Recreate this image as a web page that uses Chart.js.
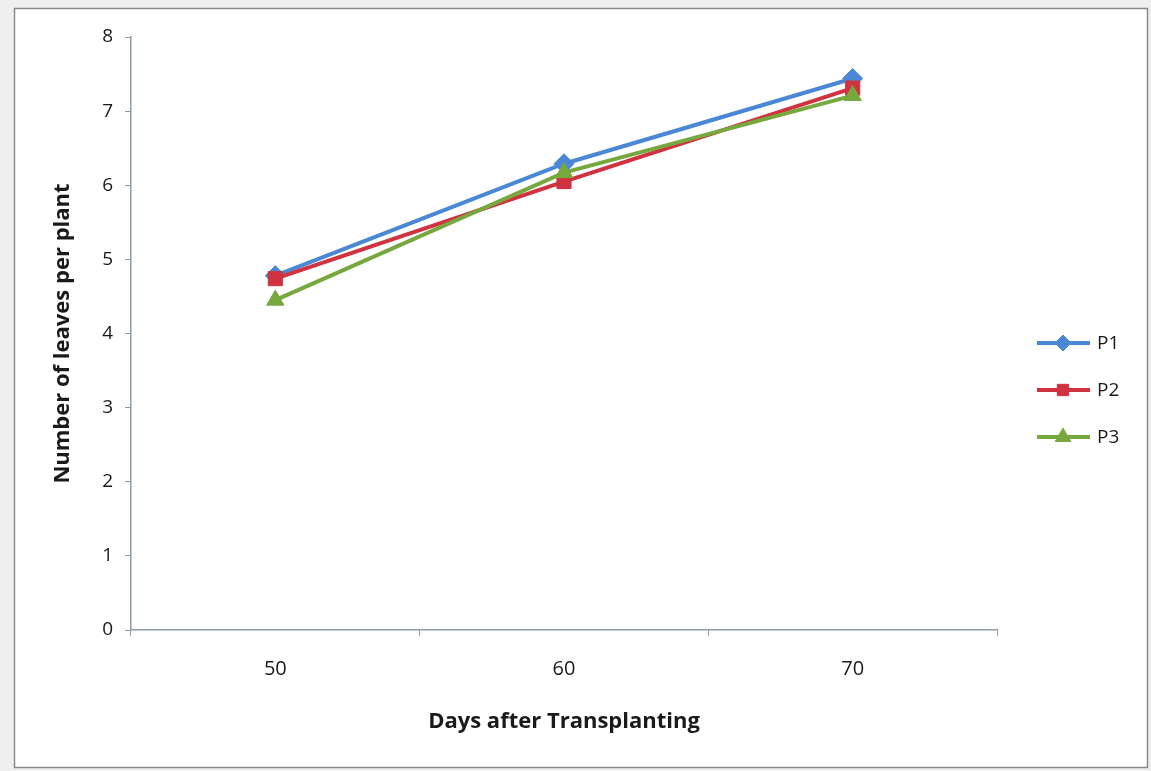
<!DOCTYPE html>
<html>
<head>
<meta charset="utf-8">
<script src="https://cdn.jsdelivr.net/npm/chart.js@4.4.1/dist/chart.umd.min.js"></script>
<style>
html,body{margin:0;padding:0;background:#f0f0f0;}
#wrap{position:absolute;left:0;top:0;width:1151px;height:771px;}
</style>
</head>
<body>
<div id="wrap"><canvas id="c" width="1151" height="771"></canvas></div>
<script>
const categories = ['50', '60', '70'];
const seriesNames = ['P1', 'P2', 'P3'];
const p1 = [4.78, 6.29, 7.44];
const p2 = [4.74, 6.05, 7.31];
const p3 = [4.45, 6.17, 7.21];
const yTicks = [0, 1, 2, 3, 4, 5, 6, 7, 8];

const colors = ['#4a88d6', '#d0323f', '#76a83e'];
const pointStyles = ['rectRot', 'rect', 'triangle'];
const radii = [10, 10, 10];
const legendRadii = [8, 8, 9];
const FONT = "'Open Sans', 'Liberation Sans', sans-serif";

const frame = {
  id: 'frame',
  beforeDraw(chart) {
    const ctx = chart.ctx;
    ctx.save();
    ctx.fillStyle = '#efefef';
    ctx.fillRect(0, 0, chart.width, chart.height);
    ctx.fillStyle = '#ffffff';
    ctx.fillRect(14, 8, 1134, 760);
    ctx.strokeStyle = '#8a8a8a';
    ctx.lineWidth = 1.5;
    ctx.strokeRect(14.5, 8.5, 1133, 759);
    ctx.restore();
  }
};

const legendPlugin = {
  id: 'customLegend',
  afterDraw(chart) {
    const ctx = chart.ctx;
    ctx.save();
    chart.data.datasets.forEach((ds, i) => {
      const y = 343 + i * 47;
      ctx.strokeStyle = ds.borderColor;
      ctx.lineWidth = 4;
      ctx.beginPath();
      ctx.moveTo(1037, y);
      ctx.lineTo(1090, y);
      ctx.stroke();
      ctx.fillStyle = ds.borderColor;
      ctx.strokeStyle = ds.borderColor;
      ctx.lineWidth = 1;
      Chart.helpers.drawPoint(ctx, {pointStyle: ds.pointStyle, radius: legendRadii[i], borderWidth: 1, rotation: 0}, 1063, y);
      ctx.fillStyle = '#1a1a1a';
      ctx.font = '19px ' + FONT;
      ctx.textBaseline = 'middle';
      ctx.textAlign = 'left';
      ctx.fillText(ds.label, 1097, y + 1);
    });
    ctx.restore();
  }
};

const seriesData = [p1, p2, p3];
new Chart(document.getElementById('c'), {
  type: 'line',
  data: {
    labels: categories,
    datasets: seriesNames.map((n, i) => ({
      label: n,
      data: seriesData[i],
      order: seriesNames.length - i,
      borderColor: colors[i],
      backgroundColor: colors[i],
      borderWidth: 4,
      pointStyle: pointStyles[i],
      pointRadius: radii[i],
      pointBorderWidth: 1,
      tension: 0
    }))
  },
  options: {
    responsive: false,
    animation: false,
    devicePixelRatio: 1,
    layout: {padding: {left: 40, right: 154, top: 37, bottom: 0}},
    plugins: {legend: {display: false}, tooltip: {enabled: false}},
    scales: {
      x: {
        offset: true,
        grid: {offset: true, drawOnChartArea: false, drawTicks: true, tickLength: 6, color: '#8e9ca3'},
        border: {color: '#8e9ca3', width: 1.5},
        ticks: {color: '#1a1a1a', font: {family: FONT, size: 20}, padding: 21},
        title: {display: true, text: 'Days after Transplanting', color: '#1a1a1a', font: {family: FONT, size: 22, weight: 'bold'}, padding: {top: 0, bottom: 36}},
        afterFit(s) { s.height = 141; }
      },
      y: {
        min: 0, max: 8,
        afterBuildTicks(s) { s.ticks = yTicks.map(v => ({value: v})); },
        grid: {drawOnChartArea: false, drawTicks: true, tickLength: 6, color: '#8e9ca3'},
        border: {color: '#8e9ca3', width: 1.5},
        ticks: {color: '#1a1a1a', font: {family: FONT, size: 19}, padding: 12},
        title: {display: true, text: 'Number of leaves per plant', color: '#1a1a1a', font: {family: FONT, size: 22, weight: 'bold'}, padding: {top: 10, bottom: 0}},
        afterFit(s) { s.width = 91; }
      }
    }
  },
  plugins: [frame, legendPlugin]
});
</script>
</body>
</html>
